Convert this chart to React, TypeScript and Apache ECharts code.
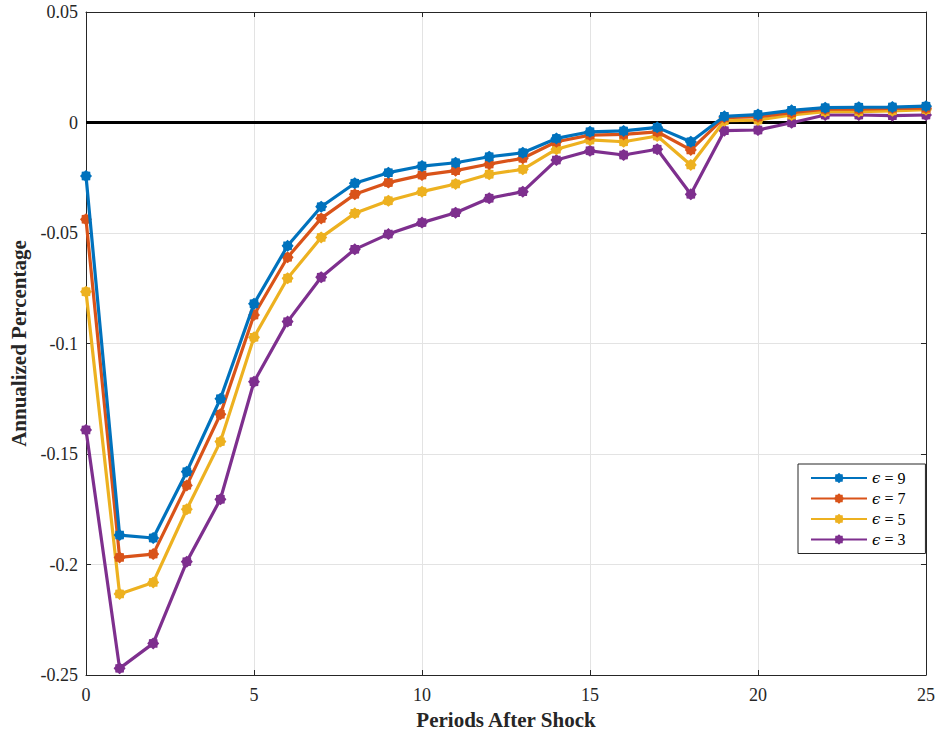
import React, { useEffect, useRef } from "react";
import * as echarts from "echarts";

const periods = [0, 1, 2, 3, 4, 5, 6, 7, 8, 9, 10, 11, 12, 13, 14, 15, 16, 17, 18, 19, 20, 21, 22, 23, 24, 25];

const eps9 = [-0.0242, -0.1867, -0.188, -0.158, -0.125, -0.082, -0.0558, -0.0381, -0.0275, -0.0227, -0.0197, -0.0182, -0.0155, -0.0137, -0.0072, -0.0042, -0.0038, -0.0022, -0.0087, 0.0028, 0.0036, 0.0055, 0.0067, 0.0069, 0.007, 0.0074];
const eps7 = [-0.0438, -0.1968, -0.1953, -0.1642, -0.132, -0.0871, -0.061, -0.0434, -0.0325, -0.0272, -0.0238, -0.0218, -0.0188, -0.0162, -0.0087, -0.0057, -0.0054, -0.0042, -0.0124, 0.0022, 0.0026, 0.0044, 0.006, 0.006, 0.0064, 0.0065];
const eps5 = [-0.0766, -0.2133, -0.2081, -0.175, -0.1444, -0.0972, -0.0705, -0.052, -0.0411, -0.0354, -0.0313, -0.0278, -0.0234, -0.0212, -0.0121, -0.0079, -0.0087, -0.0061, -0.0192, 0.0008, 0.0011, 0.0034, 0.0049, 0.0049, 0.0053, 0.0058];
const eps3 = [-0.1391, -0.247, -0.2357, -0.1987, -0.1705, -0.1173, -0.0901, -0.07, -0.0574, -0.0505, -0.0453, -0.0408, -0.0343, -0.0313, -0.017, -0.0128, -0.0147, -0.0121, -0.0325, -0.0037, -0.0034, -0.0001, 0.0034, 0.0034, 0.0031, 0.0034];

const seriesNames = ["ϵ = 9", "ϵ = 7", "ϵ = 5", "ϵ = 3"];
const seriesValues = [eps9, eps7, eps5, eps3];
const seriesColors = ["#0072BD", "#D95319", "#EDB120", "#7E2F8E"];

const yTicks = { min: -0.25, max: 0.05, interval: 0.05 };
const xTicks = { min: 0, max: 25, interval: 5 };

function starPath(points: number, outer: number, inner: number): string {
  const pts: string[] = [];
  for (let i = 0; i < points * 2; i++) {
    const r = i % 2 === 0 ? outer : inner;
    const a = (Math.PI * i) / points - Math.PI / 2;
    pts.push(`${(r * Math.cos(a)).toFixed(3)} ${(r * Math.sin(a)).toFixed(3)}`);
  }
  return "path://M" + pts.join(" L") + " Z";
}

const markerSymbol = starPath(8, 10, 8);
const FONT = "Liberation Serif";

export default function App() {
  const ref = useRef<HTMLDivElement>(null);
  useEffect(() => {
    if (!ref.current) return;
    const chart = echarts.init(ref.current, undefined, { renderer: "svg" });
    const axisColor = "#262626";
    const gridColor = "#e3e3e3";
    const lineSeries = seriesNames.map((name, i) => ({
      name,
      type: "line",
      data: periods.map((p, j) => [p, seriesValues[i][j]]),
      symbol: markerSymbol,
      symbolSize: 12,
      showSymbol: true,
      clip: false,
      color: seriesColors[i],
      lineStyle: { width: 3.2, color: seriesColors[i] },
      itemStyle: { color: seriesColors[i] },
      z: 3 + (seriesNames.length - i),
    }));
    chart.setOption({
      animation: false,
      backgroundColor: "#ffffff",
      textStyle: { fontFamily: FONT },
      grid: { left: 86, right: 14, top: 12, bottom: 61, containLabel: false, outerBoundsMode: "none" },
      legend: {
        data: seriesNames,
        orient: "vertical",
        left: 798,
        top: 464,
        padding: [6, 20, 6, 12],
        itemGap: 4.5,
        itemWidth: 56,
        itemHeight: 13,
        backgroundColor: "#ffffff",
        borderColor: axisColor,
        borderWidth: 1,
        borderRadius: 0,
        formatter: (name: string) => {
          const rest = name.slice(1);
          return "{e|ϵ}{t|" + rest + "}";
        },
        textStyle: {
          fontFamily: FONT,
          fontSize: 16,
          color: "#000000",
          rich: {
            e: { fontFamily: "DejaVu Serif", fontStyle: "italic", fontSize: 15, color: "#000000" },
            t: { fontFamily: FONT, fontSize: 16, color: "#000000" },
          },
        },
      },
      xAxis: [
        {
          type: "value",
          min: xTicks.min,
          max: xTicks.max,
          interval: xTicks.interval,
          name: "Periods After Shock",
          nameLocation: "middle",
          nameGap: 34,
          nameTextStyle: { fontFamily: FONT, fontSize: 21, fontWeight: "bold", color: "#262626" },
          axisLine: { show: true, onZero: false, lineStyle: { color: axisColor, width: 1 } },
          axisTick: { show: true, inside: true, length: 5, lineStyle: { color: axisColor } },
          axisLabel: { fontFamily: FONT, fontSize: 18, color: "#262626", margin: 11 },
          splitLine: { show: true, lineStyle: { color: gridColor, width: 1 } },
        },
        {
          type: "value",
          position: "top",
          min: xTicks.min,
          max: xTicks.max,
          interval: xTicks.interval,
          axisLine: { show: true, onZero: false, lineStyle: { color: axisColor, width: 1 } },
          axisTick: { show: true, inside: true, length: 5, lineStyle: { color: axisColor } },
          axisLabel: { show: false },
          splitLine: { show: false },
        },
      ],
      yAxis: [
        {
          type: "value",
          min: yTicks.min,
          max: yTicks.max,
          interval: yTicks.interval,
          name: "Annualized Percentage",
          nameLocation: "middle",
          nameGap: 54,
          nameTextStyle: { fontFamily: FONT, fontSize: 21, fontWeight: "bold", color: "#262626" },
          axisLine: { show: true, onZero: false, lineStyle: { color: axisColor, width: 1 } },
          axisTick: { show: true, inside: true, length: 5, lineStyle: { color: axisColor } },
          axisLabel: {
            fontFamily: FONT,
            fontSize: 18,
            color: "#262626",
            margin: 8,
            formatter: (v: number) => String(Math.round(v * 100) / 100),
          },
          splitLine: { show: true, lineStyle: { color: gridColor, width: 1 } },
        },
        {
          type: "value",
          position: "right",
          min: yTicks.min,
          max: yTicks.max,
          interval: yTicks.interval,
          axisLine: { show: true, onZero: false, lineStyle: { color: axisColor, width: 1 } },
          axisTick: { show: true, inside: true, length: 5, lineStyle: { color: axisColor } },
          axisLabel: { show: false },
          splitLine: { show: false },
        },
      ],
      series: [
        {
          name: "zero",
          type: "line",
          data: [[xTicks.min, 0], [xTicks.max, 0]],
          symbol: "none",
          silent: true,
          lineStyle: { color: "#000000", width: 3 },
          z: 2,
        },
        ...lineSeries,
      ],
    });
    return () => chart.dispose();
  }, []);
  return (
    <div
      ref={ref}
      style={{ position: "fixed", left: 0, top: 0, width: 940, height: 736 }}
    />
  );
}
